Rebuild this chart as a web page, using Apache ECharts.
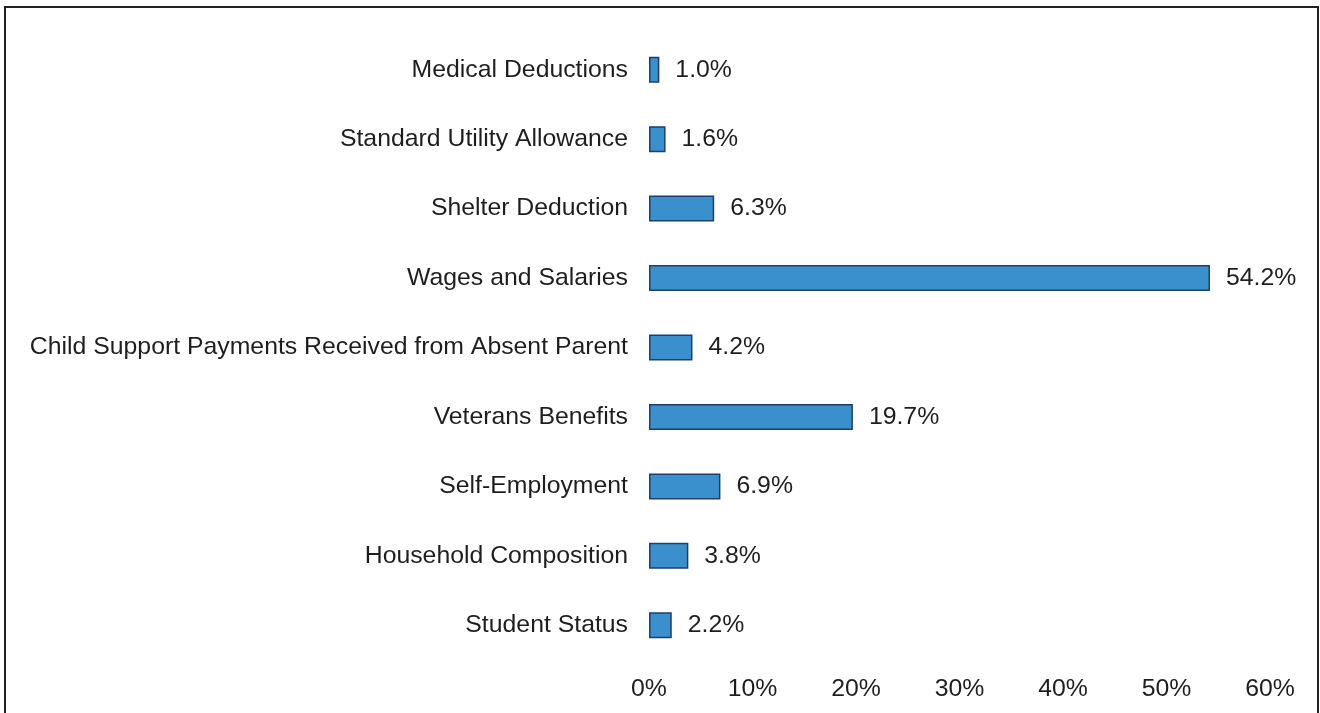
<!DOCTYPE html>
<html>
<head>
<meta charset="utf-8">
<script src="https://cdn.jsdelivr.net/npm/echarts@6/dist/echarts.min.js"></script>
<style>
  html, body { margin: 0; padding: 0; background: #fff; }
  #chart { width: 1320px; height: 713px; }
</style>
</head>
<body>
<div id="chart"></div>
<script>
// categories, top to bottom as in the picture
const categories = [
  'Medical Deductions',
  'Standard Utility Allowance',
  'Shelter Deduction',
  'Wages and Salaries',
  'Child Support Payments Received from Absent Parent',
  'Veterans Benefits',
  'Self-Employment',
  'Household Composition',
  'Student Status'
];
// percent of errors
const values = [1.0, 1.6, 6.3, 54.2, 4.2, 19.7, 6.9, 3.8, 2.2];
// x-axis ticks
const xTicks = [0, 10, 20, 30, 40, 50, 60];

const chart = echarts.init(document.getElementById('chart'));

const font = '"Liberation Sans", Arial, sans-serif';
const fs = 24.8;

const option = {
  animation: false,
  // outer frame
  graphic: [{
    type: 'rect',
    shape: { x: 5, y: 7, width: 1313, height: 730 },
    style: { fill: 'none', stroke: '#222', lineWidth: 2 },
    silent: true
  }],
  grid: {
    left: 649,
    right: 50,
    top: 35,
    bottom: 53
  },
  xAxis: {
    type: 'value',
    min: xTicks[0],
    max: xTicks[xTicks.length - 1],
    interval: 10,
    axisLine: { show: false },
    axisTick: { show: false },
    splitLine: { show: false },
    axisLabel: {
      formatter: '{value}%',
      color: '#1e1e1e',
      fontSize: fs,
      fontFamily: font,
      margin: 17
    }
  },
  yAxis: {
    type: 'category',
    inverse: true,
    data: categories,
    axisLine: { show: false },
    axisTick: { show: false },
    axisLabel: {
      color: '#1e1e1e',
      fontSize: fs,
      fontFamily: font,
      margin: 21
    }
  },
  series: [{
    type: 'bar',
    data: values,
    barWidth: 26,
    itemStyle: {
      color: '#3a90cc',
      borderColor: '#1d3f6e',
      borderWidth: 1.5
    },
    label: {
      show: true,
      position: 'right',
      distance: 16,
      formatter: p => p.value.toFixed(1) + '%',
      color: '#1e1e1e',
      fontSize: fs,
      fontFamily: font
    }
  }]
};

chart.setOption(option);
window.addEventListener('resize', chart.resize);
</script>
</body>
</html>
